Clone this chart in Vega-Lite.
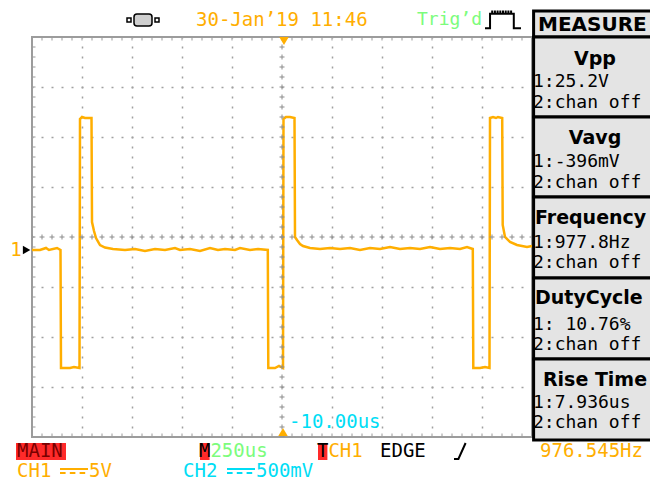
{
  "$schema": "https://vega.github.io/schema/vega-lite/v6.json",
  "width": 500,
  "height": 400,
  "autosize": {"type": "none"},
  "padding": {"left": 32, "top": 37, "right": 118, "bottom": 44},
  "background": "white",
  "config": {
    "view": {"stroke": "#9c9c9c", "strokeWidth": 2},
    "text": {"font": "DejaVu Sans Mono", "fontSize": 19, "baseline": "middle", "align": "left"}
  },
  "datasets": {
    "ch1": [
      {"t": -1250, "v": 0}, {"t": -1210, "v": 0}, {"t": -1180, "v": 0.2}, {"t": -1165, "v": 0},
      {"t": -1125, "v": 0.2}, {"t": -1107.5, "v": 0},
      {"t": -1105, "v": -11.8}, {"t": -1060, "v": -11.8}, {"t": -1040, "v": -11.7}, {"t": -1012.5, "v": -11.8},
      {"t": -1010, "v": 13.1}, {"t": -1000, "v": 13.3}, {"t": -985, "v": 13.2}, {"t": -952.5, "v": 13.2},
      {"t": -950, "v": 2.8}, {"t": -940, "v": 1.9}, {"t": -930, "v": 1.2}, {"t": -910, "v": 0.5},
      {"t": -885, "v": 0.25}, {"t": -845, "v": 0.1}, {"t": -785, "v": 0}, {"t": -735, "v": 0.1},
      {"t": -685, "v": -0.1}, {"t": -635, "v": 0.1}, {"t": -585, "v": 0}, {"t": -535, "v": 0.2},
      {"t": -510, "v": 0}, {"t": -460, "v": 0.1}, {"t": -410, "v": -0.1}, {"t": -360, "v": 0.2},
      {"t": -320, "v": 0}, {"t": -285, "v": 0.1}, {"t": -235, "v": 0}, {"t": -210, "v": 0.2},
      {"t": -160, "v": 0}, {"t": -120, "v": 0.1}, {"t": -71, "v": 0},
      {"t": -68.5, "v": -11.8}, {"t": -35, "v": -11.8}, {"t": -15, "v": -11.6}, {"t": 5, "v": -11.8},
      {"t": 7.5, "v": 13.1}, {"t": 20, "v": 13.3}, {"t": 40, "v": 13.3}, {"t": 62.5, "v": 13.2},
      {"t": 65, "v": 1.3}, {"t": 75, "v": 1.0}, {"t": 90, "v": 0.6}, {"t": 105, "v": 0.4},
      {"t": 140, "v": 0.2}, {"t": 190, "v": 0.1}, {"t": 240, "v": 0.2}, {"t": 290, "v": 0.1},
      {"t": 340, "v": 0.2}, {"t": 390, "v": 0}, {"t": 440, "v": 0.2}, {"t": 490, "v": 0.1},
      {"t": 540, "v": 0.3}, {"t": 590, "v": 0.1}, {"t": 640, "v": 0.2}, {"t": 690, "v": 0.1},
      {"t": 740, "v": 0.3}, {"t": 790, "v": 0.1}, {"t": 840, "v": 0.2}, {"t": 890, "v": 0.1},
      {"t": 925, "v": 0.3}, {"t": 954, "v": 0.1},
      {"t": 956.5, "v": -11.8}, {"t": 990, "v": -11.8}, {"t": 1015, "v": -11.7}, {"t": 1037.5, "v": -11.8},
      {"t": 1040, "v": 13.2}, {"t": 1055, "v": 13.3}, {"t": 1070, "v": 13.2}, {"t": 1080, "v": 13.3},
      {"t": 1101, "v": 13.2}, {"t": 1103.5, "v": 2.5}, {"t": 1115, "v": 1.3}, {"t": 1140, "v": 0.8},
      {"t": 1175, "v": 0.5}, {"t": 1225, "v": 0.3}, {"t": 1250, "v": 0.4}
    ],
    "one": [{}]
  },
  "layer": [
    {
      "data": {"name": "ch1"},
      "mark": {"type": "line", "color": "#FFAE00", "strokeWidth": 2.5},
      "encoding": {
        "x": {"field": "t", "type": "quantitative",
          "scale": {"domain": [-1250, 1250], "nice": false, "zero": false},
          "axis": {"values": [-1000, -750, -500, -250, 250, 500, 750, 1000], "grid": true, "gridDash": [2, 8], "gridDashOffset": 1, "gridColor": "#a0a0a0", "gridWidth": 1.5, "labels": false, "ticks": false, "domain": false, "title": null}},
        "y": {"field": "v", "type": "quantitative",
          "scale": {"domain": [-18.7, 21.3], "nice": false, "zero": false},
          "axis": {"values": [16.3, 11.3, 6.3, -3.7, -8.7, -13.7], "grid": true, "gridDash": [2, 8], "gridDashOffset": 1, "gridColor": "#a0a0a0", "gridWidth": 1.5, "labels": false, "ticks": false, "domain": false, "title": null}}
      }
    },
    {"data": {"name": "one"}, "mark": {"type": "rule", "color": "#8c8c8c", "strokeWidth": 1, "strokeDash": [5, 5], "strokeDashOffset": 2.5}, "encoding": {"y": {"datum": 1.3}}},
    {"data": {"name": "one"}, "mark": {"type": "rule", "color": "#8c8c8c", "strokeWidth": 5, "strokeDash": [1, 9], "strokeDashOffset": 0.5}, "encoding": {"y": {"datum": 1.3}}},
    {"data": {"name": "one"}, "mark": {"type": "rule", "color": "#8c8c8c", "strokeWidth": 1, "strokeDash": [5, 5], "strokeDashOffset": 2.5}, "encoding": {"x": {"datum": 0}}},
    {"data": {"name": "one"}, "mark": {"type": "rule", "color": "#8c8c8c", "strokeWidth": 5, "strokeDash": [1, 9], "strokeDashOffset": 0.5}, "encoding": {"x": {"datum": 0}}},
    {"data": {"name": "one"}, "mark": {"type": "rule", "color": "#9c9c9c", "strokeWidth": 7, "strokeDash": [1, 9], "strokeDashOffset": 0.5, "clip": true}, "encoding": {"x": {"datum": -1250}}},
    {"data": {"name": "one"}, "mark": {"type": "rule", "color": "#9c9c9c", "strokeWidth": 7, "strokeDash": [1, 9], "strokeDashOffset": 0.5, "clip": true}, "encoding": {"y": {"datum": 21.3}}},
    {"data": {"name": "one"}, "mark": {"type": "rule", "color": "#9c9c9c", "strokeWidth": 7, "strokeDash": [1, 9], "strokeDashOffset": 0.5, "clip": true}, "encoding": {"y": {"datum": -18.7}}},
    {"data": {"name": "one"}, "mark": {"type": "point", "shape": "triangle-down", "filled": true, "color": "#FFAE00", "size": 90, "opacity": 1}, "encoding": {"x": {"datum": 10}, "y": {"datum": 20.9}}},
    {"data": {"name": "one"}, "mark": {"type": "point", "shape": "triangle-up", "filled": true, "color": "#FFAE00", "size": 90, "opacity": 1}, "encoding": {"x": {"datum": 5}, "y": {"datum": -18.2}}},
    {"data": {"name": "one"}, "mark": {"type": "point", "shape": "triangle-right", "filled": true, "color": "black", "size": 75, "opacity": 1}, "encoding": {"x": {"datum": -1277}, "y": {"datum": 0}}},
    {"data": {"name": "one"}, "mark": {"type": "text", "color": "#FFAE00", "align": "center"}, "encoding": {"x": {"datum": -1330}, "y": {"datum": 0}, "text": {"value": "1"}}},
    {"data": {"name": "one"}, "mark": {"type": "text", "color": "#00DDF5"}, "encoding": {"x": {"datum": 35}, "y": {"datum": -17.2}, "text": {"value": "-10.00us"}}},

    {"data": {"name": "one"}, "mark": {"type": "rect", "fill": "#cfcfcf", "stroke": "black", "strokeWidth": 1.5, "cornerRadius": 3}, "encoding": {"x": {"datum": -740}, "x2": {"datum": -650}, "y": {"datum": 23.6}, "y2": {"datum": 22.4}}},
    {"data": {"name": "one"}, "mark": {"type": "point", "shape": "square", "filled": false, "color": "black", "strokeWidth": 1.5, "size": 16, "opacity": 1}, "encoding": {"x": {"datum": -765}, "y": {"datum": 23.0}}},
    {"data": {"name": "one"}, "mark": {"type": "point", "shape": "square", "filled": false, "color": "black", "strokeWidth": 1.5, "size": 16, "opacity": 1}, "encoding": {"x": {"datum": -625}, "y": {"datum": 23.0}}},
    {"data": {"name": "one"}, "mark": {"type": "text", "color": "#FFAE00"}, "encoding": {"x": {"datum": -430}, "y": {"datum": 23.0}, "text": {"value": "30-Jan’19 11:46"}}},
    {"data": {"name": "one"}, "mark": {"type": "text", "color": "#7CFC7C", "fontSize": 18}, "encoding": {"x": {"datum": 675}, "y": {"datum": 23.0}, "text": {"value": "Trig’d"}}},
    {"data": {"name": "one"}, "mark": {"type": "point", "shape": "M-1,0.4 L-0.72,0.4 L-0.72,-0.4 L0.6,-0.4 L0.6,0.4 L1,0.4 M-0.6,-0.4 L-0.6,-0.58 M-0.45,-0.4 L-0.45,-0.58 M-0.3,-0.4 L-0.3,-0.58 M-0.15,-0.4 L-0.15,-0.58 M0,-0.4 L0,-0.58 M0.15,-0.4 L0.15,-0.58 M0.3,-0.4 L0.3,-0.58 M0.45,-0.4 L0.45,-0.58", "filled": false, "color": "black", "strokeWidth": 2, "size": 1296, "opacity": 1}, "encoding": {"x": {"datum": 1105}, "y": {"datum": 22.9}}},

    {"data": {"name": "one"}, "mark": {"type": "rect", "fill": "#e4e4e4", "stroke": "black", "strokeWidth": 3}, "encoding": {"x": {"datum": 1258}, "x2": {"datum": 1890}, "y": {"datum": 23.9}, "y2": {"datum": 21.3}}},
    {"data": {"name": "one"}, "mark": {"type": "rect", "fill": "#e4e4e4", "stroke": "black", "strokeWidth": 3}, "encoding": {"x": {"datum": 1258}, "x2": {"datum": 1890}, "y": {"datum": 21.3}, "y2": {"datum": 13.3}}},
    {"data": {"name": "one"}, "mark": {"type": "rect", "fill": "#e4e4e4", "stroke": "black", "strokeWidth": 3}, "encoding": {"x": {"datum": 1258}, "x2": {"datum": 1890}, "y": {"datum": 13.3}, "y2": {"datum": 5.3}}},
    {"data": {"name": "one"}, "mark": {"type": "rect", "fill": "#e4e4e4", "stroke": "black", "strokeWidth": 3}, "encoding": {"x": {"datum": 1258}, "x2": {"datum": 1890}, "y": {"datum": 5.3}, "y2": {"datum": -2.8}}},
    {"data": {"name": "one"}, "mark": {"type": "rect", "fill": "#e4e4e4", "stroke": "black", "strokeWidth": 3}, "encoding": {"x": {"datum": 1258}, "x2": {"datum": 1890}, "y": {"datum": -2.8}, "y2": {"datum": -10.9}}},
    {"data": {"name": "one"}, "mark": {"type": "rect", "fill": "#e4e4e4", "stroke": "black", "strokeWidth": 3}, "encoding": {"x": {"datum": 1258}, "x2": {"datum": 1890}, "y": {"datum": -10.9}, "y2": {"datum": -19.0}}},

    {"data": {"name": "one"}, "mark": {"type": "text", "color": "black", "font": "DejaVu Sans", "fontWeight": "bold", "fontSize": 20}, "encoding": {"x": {"datum": 1280}, "y": {"datum": 22.5}, "text": {"value": "MEASURE"}}},
    {"data": {"name": "one"}, "mark": {"type": "text", "color": "black", "font": "DejaVu Sans", "fontWeight": "bold", "fontSize": 19, "align": "center"}, "encoding": {"x": {"datum": 1565}, "y": {"datum": 19.1}, "text": {"value": "Vpp"}}},
    {"data": {"name": "one"}, "mark": {"type": "text", "color": "black", "fontSize": 18}, "encoding": {"x": {"datum": 1255}, "y": {"datum": 16.8}, "text": {"value": "1:25.2V"}}},
    {"data": {"name": "one"}, "mark": {"type": "text", "color": "black", "fontSize": 18}, "encoding": {"x": {"datum": 1255}, "y": {"datum": 14.7}, "text": {"value": "2:chan off"}}},
    {"data": {"name": "one"}, "mark": {"type": "text", "color": "black", "font": "DejaVu Sans", "fontWeight": "bold", "fontSize": 19, "align": "center"}, "encoding": {"x": {"datum": 1565}, "y": {"datum": 11.2}, "text": {"value": "Vavg"}}},
    {"data": {"name": "one"}, "mark": {"type": "text", "color": "black", "fontSize": 18}, "encoding": {"x": {"datum": 1255}, "y": {"datum": 8.8}, "text": {"value": "1:-396mV"}}},
    {"data": {"name": "one"}, "mark": {"type": "text", "color": "black", "fontSize": 18}, "encoding": {"x": {"datum": 1255}, "y": {"datum": 6.7}, "text": {"value": "2:chan off"}}},
    {"data": {"name": "one"}, "mark": {"type": "text", "color": "black", "font": "DejaVu Sans", "fontWeight": "bold", "fontSize": 19}, "encoding": {"x": {"datum": 1265}, "y": {"datum": 3.2}, "text": {"value": "Frequency"}}},
    {"data": {"name": "one"}, "mark": {"type": "text", "color": "black", "fontSize": 18}, "encoding": {"x": {"datum": 1255}, "y": {"datum": 0.7}, "text": {"value": "1:977.8Hz"}}},
    {"data": {"name": "one"}, "mark": {"type": "text", "color": "black", "fontSize": 18}, "encoding": {"x": {"datum": 1255}, "y": {"datum": -1.3}, "text": {"value": "2:chan off"}}},
    {"data": {"name": "one"}, "mark": {"type": "text", "color": "black", "font": "DejaVu Sans", "fontWeight": "bold", "fontSize": 19}, "encoding": {"x": {"datum": 1265}, "y": {"datum": -4.8}, "text": {"value": "DutyCycle"}}},
    {"data": {"name": "one"}, "mark": {"type": "text", "color": "black", "fontSize": 18}, "encoding": {"x": {"datum": 1255}, "y": {"datum": -7.5}, "text": {"value": "1: 10.76%"}}},
    {"data": {"name": "one"}, "mark": {"type": "text", "color": "black", "fontSize": 18}, "encoding": {"x": {"datum": 1255}, "y": {"datum": -9.5}, "text": {"value": "2:chan off"}}},
    {"data": {"name": "one"}, "mark": {"type": "text", "color": "black", "font": "DejaVu Sans", "fontWeight": "bold", "fontSize": 19, "align": "center"}, "encoding": {"x": {"datum": 1565}, "y": {"datum": -13.0}, "text": {"value": "Rise Time"}}},
    {"data": {"name": "one"}, "mark": {"type": "text", "color": "black", "fontSize": 18}, "encoding": {"x": {"datum": 1255}, "y": {"datum": -15.3}, "text": {"value": "1:7.936us"}}},
    {"data": {"name": "one"}, "mark": {"type": "text", "color": "black", "fontSize": 18}, "encoding": {"x": {"datum": 1255}, "y": {"datum": -17.3}, "text": {"value": "2:chan off"}}},

    {"data": {"name": "one"}, "mark": {"type": "rect", "fill": "#ff2a2a"}, "encoding": {"x": {"datum": -1330}, "x2": {"datum": -1080}, "y": {"datum": -19.3}, "y2": {"datum": -21.0}}},
    {"data": {"name": "one"}, "mark": {"type": "text", "color": "#7a0000"}, "encoding": {"x": {"datum": -1325}, "y": {"datum": -20.1}, "text": {"value": "MAIN"}}},
    {"data": {"name": "one"}, "mark": {"type": "rect", "fill": "#ff2a2a"}, "encoding": {"x": {"datum": -410}, "x2": {"datum": -362}, "y": {"datum": -19.3}, "y2": {"datum": -21.0}}},
    {"data": {"name": "one"}, "mark": {"type": "text", "color": "black", "align": "center"}, "encoding": {"x": {"datum": -386}, "y": {"datum": -20.1}, "text": {"value": "M"}}},
    {"data": {"name": "one"}, "mark": {"type": "text", "color": "#7CFC7C"}, "encoding": {"x": {"datum": -358}, "y": {"datum": -20.1}, "text": {"value": "250us"}}},
    {"data": {"name": "one"}, "mark": {"type": "rect", "fill": "#ff2a2a"}, "encoding": {"x": {"datum": 180}, "x2": {"datum": 227}, "y": {"datum": -19.3}, "y2": {"datum": -21.0}}},
    {"data": {"name": "one"}, "mark": {"type": "text", "color": "black", "align": "center"}, "encoding": {"x": {"datum": 203}, "y": {"datum": -20.1}, "text": {"value": "T"}}},
    {"data": {"name": "one"}, "mark": {"type": "text", "color": "#FFAE00"}, "encoding": {"x": {"datum": 232}, "y": {"datum": -20.1}, "text": {"value": "CH1"}}},
    {"data": {"name": "one"}, "mark": {"type": "text", "color": "black"}, "encoding": {"x": {"datum": 490}, "y": {"datum": -20.1}, "text": {"value": "EDGE"}}},
    {"data": {"name": "one"}, "mark": {"type": "point", "shape": "M-1,1 L-0.45,1 L0.45,-1", "filled": false, "color": "black", "strokeWidth": 2, "size": 256, "opacity": 1}, "encoding": {"x": {"datum": 900}, "y": {"datum": -20.1}}},
    {"data": {"name": "one"}, "mark": {"type": "text", "color": "#FFAE00"}, "encoding": {"x": {"datum": 1290}, "y": {"datum": -20.1}, "text": {"value": "976.545Hz"}}},
    {"data": {"name": "one"}, "mark": {"type": "text", "color": "#FFAE00"}, "encoding": {"x": {"datum": -1325}, "y": {"datum": -22.1}, "text": {"value": "CH1"}}},
    {"data": {"name": "one"}, "mark": {"type": "point", "shape": "M-1,-0.15 L1,-0.15 M-1,0.15 L-0.6,0.15 M-0.3,0.15 L0.1,0.15 M0.4,0.15 L0.8,0.15", "filled": false, "color": "#FFAE00", "strokeWidth": 2, "size": 784, "opacity": 1}, "encoding": {"x": {"datum": -1040}, "y": {"datum": -22.1}}},
    {"data": {"name": "one"}, "mark": {"type": "text", "color": "#FFAE00"}, "encoding": {"x": {"datum": -965}, "y": {"datum": -22.1}, "text": {"value": "5V"}}},
    {"data": {"name": "one"}, "mark": {"type": "text", "color": "#00DDF5"}, "encoding": {"x": {"datum": -495}, "y": {"datum": -22.1}, "text": {"value": "CH2"}}},
    {"data": {"name": "one"}, "mark": {"type": "point", "shape": "M-1,-0.15 L1,-0.15 M-1,0.15 L-0.6,0.15 M-0.3,0.15 L0.1,0.15 M0.4,0.15 L0.8,0.15", "filled": false, "color": "#00DDF5", "strokeWidth": 2, "size": 784, "opacity": 1}, "encoding": {"x": {"datum": -205}, "y": {"datum": -22.1}}},
    {"data": {"name": "one"}, "mark": {"type": "text", "color": "#00DDF5"}, "encoding": {"x": {"datum": -130}, "y": {"datum": -22.1}, "text": {"value": "500mV"}}}
  ]
}
